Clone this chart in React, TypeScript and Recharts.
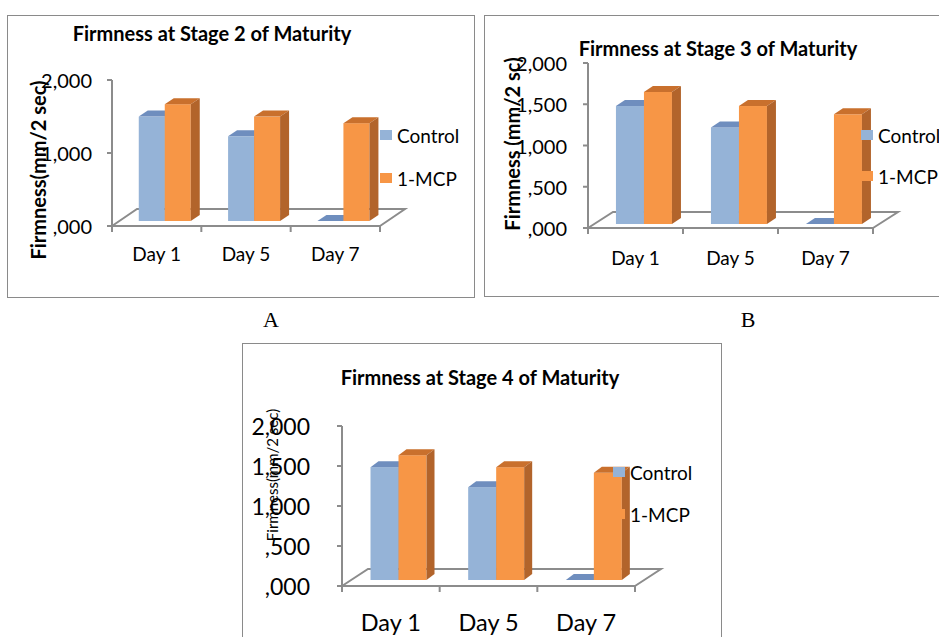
import React from 'react';
import { BarChart, Bar, XAxis, YAxis, Legend, Customized } from 'recharts';

// categories and series
const days = ['Day 1', 'Day 5', 'Day 7'];
const seriesNames = ['Control', '1-MCP'];

// values (mm/2 sec)
const stage2Control = [1430, 1160, 0];
const stage2Mcp = [1600, 1430, 1340];
const stage3Control = [1430, 1170, 0];
const stage3Mcp = [1600, 1430, 1330];
const stage4Control = [1410, 1160, 0];
const stage4Mcp = [1560, 1410, 1340];

// axis ticks and their labels
const ticksCoarse = [0, 1000, 2000];
const ticksFine = [0, 500, 1000, 1500, 2000];
const tickLabels: Record<number, string> = {
  0: ',000',
  500: ',500',
  1000: '1,000',
  1500: '1,500',
  2000: '2,000',
};

const BLUE = '#95B3D7';
const BLUE_TOP = '#6F8EBE';
const BLUE_SIDE = '#5F7EAE';
const ORANGE = '#F79646';
const ORANGE_TOP = '#C9702D';
const ORANGE_SIDE = '#B2642B';
const AXIS = '#8C8C8C';
const FONT = 'Lato, "Open Sans", sans-serif';
const W = 939;
const H = 637;
const Y_AXIS_W = 60;
const X_AXIS_H = 30;

interface Layout {
  plot: { l: number; r: number; t: number; b: number };
  floor: { dx: number; dy: number };
  bar: { ox: number; oy: number; dx: number; dy: number };
  title: { text: string; x: number; y: number; size: number };
  yLabel: { text: string; x: number; y: number; size: number; weight: number };
  ticks: number[];
  tickFont: number;
  tickGap: number;
  dayFont: number;
  dayOffset: number;
  legend: { x: number; y1: number; y2: number; size: number };
}

const layoutA: Layout = {
  plot: { l: 112, r: 380, t: 80, b: 226 },
  floor: { dx: 25, dy: 17 },
  bar: { ox: 8, oy: -5, dx: 9, dy: 6 },
  title: { text: 'Firmness at Stage 2 of Maturity', x: 212, y: 33, size: 20 },
  yLabel: { text: 'Firmness(mm/2 sec)', x: 38, y: 170, size: 20, weight: 700 },
  ticks: ticksCoarse,
  tickFont: 20,
  tickGap: 15,
  dayFont: 19,
  dayOffset: 27,
  legend: { x: 380, y1: 135, y2: 178, size: 19 },
};

const layoutB: Layout = {
  plot: { l: 588, r: 873, t: 63, b: 228 },
  floor: { dx: 25, dy: 16 },
  bar: { ox: 8, oy: -4, dx: 9, dy: 6 },
  title: { text: 'Firmness at Stage 3 of Maturity', x: 718, y: 48, size: 20 },
  yLabel: { text: 'Firmness (mm/2 sc)', x: 512, y: 144, size: 20, weight: 700 },
  ticks: ticksFine,
  tickFont: 20,
  tickGap: 16,
  dayFont: 19,
  dayOffset: 29,
  legend: { x: 861, y1: 135, y2: 176, size: 19 },
};

const layoutC: Layout = {
  plot: { l: 342, r: 635, t: 426, b: 586 },
  floor: { dx: 26, dy: 17 },
  bar: { ox: 8, oy: -6, dx: 8, dy: 6 },
  title: { text: 'Firmness at Stage 4 of Maturity', x: 480, y: 377, size: 20 },
  yLabel: { text: 'Firmness(mm/2 sec)', x: 272, y: 475, size: 15, weight: 400 },
  ticks: ticksFine,
  tickFont: 23,
  tickGap: 27,
  dayFont: 23.5,
  dayOffset: 36,
  legend: { x: 613, y1: 472, y2: 514, size: 19 },
};

const Bar3D = (props: any) => {
  const { x, y, width, height, fill, top, side, ox, oy, dx, dy } = props;
  if (x == null || y == null) return null;
  const X = x + ox;
  const Y = y + oy;
  const w = width;
  const h = Math.max(height || 0, 0);
  return (
    <g>
      <rect x={X} y={Y} width={w} height={h} fill={fill} />
      <polygon points={`${X},${Y} ${X + w},${Y} ${X + w + dx},${Y - dy} ${X + dx},${Y - dy}`} fill={top} />
      <polygon
        points={`${X + w},${Y} ${X + w + dx},${Y - dy} ${X + w + dx},${Y + h - dy} ${X + w},${Y + h}`}
        fill={side}
      />
    </g>
  );
};

const Decor = ({ L }: { L: Layout }) => {
  const { l, r, b } = L.plot;
  const { dx, dy } = L.floor;
  const band = (r - l) / days.length;
  return (
    <g>
      <polyline
        points={`${l},${b} ${l + dx},${b - dy} ${r + dx},${b - dy} ${r},${b}`}
        fill="none"
        stroke={AXIS}
        strokeWidth={2}
      />
      {days.concat(['']).map((_, i) => (
        <line key={i} x1={l + i * band} x2={l + i * band} y1={b} y2={b + 6} stroke={AXIS} strokeWidth={2} />
      ))}
      <text
        x={L.title.x}
        y={L.title.y}
        textAnchor="middle"
        dominantBaseline="central"
        fontFamily={FONT}
        fontWeight={700}
        fontSize={L.title.size}
        fill="#000"
      >
        {L.title.text}
      </text>
      <text
        x={L.yLabel.x}
        y={L.yLabel.y}
        textAnchor="middle"
        dominantBaseline="central"
        fontFamily={FONT}
        fontWeight={L.yLabel.weight}
        fontSize={L.yLabel.size}
        fill="#000"
        transform={`rotate(-90 ${L.yLabel.x} ${L.yLabel.y})`}
      >
        {L.yLabel.text}
      </text>
    </g>
  );
};

const LegendBox = ({ payload, L }: any) => {
  const rowH = L.legend.y2 - L.legend.y1;
  const colorOf = (name: string) => {
    const hit = (payload || []).find((p: any) => p.value === name);
    return hit ? hit.color : name === seriesNames[0] ? BLUE : ORANGE;
  };
  return (
    <div style={{ fontFamily: FONT, fontSize: L.legend.size, color: '#000', whiteSpace: 'nowrap' }}>
      {seriesNames.map((name) => (
        <div key={name} style={{ height: rowH, display: 'flex', alignItems: 'center' }}>
          <span style={{ display: 'inline-block', width: 12, height: 10, background: colorOf(name), marginRight: 5 }} />
          <span>{name}</span>
        </div>
      ))}
    </div>
  );
};

const Panel = ({ L, control, mcp }: { L: Layout; control: number[]; mcp: number[] }) => {
  const data = days.map((d, i) => ({ day: d, control: control[i], mcp: mcp[i] }));
  const rowH = L.legend.y2 - L.legend.y1;
  return (
    <div style={{ position: 'absolute', left: 0, top: 0 }}>
      <BarChart
        width={W}
        height={H}
        data={data}
        barGap={0}
        barCategoryGap="21%"
        margin={{ top: L.plot.t, left: L.plot.l - Y_AXIS_W, right: W - L.plot.r, bottom: H - L.plot.b - X_AXIS_H }}
      >
        <Customized component={<Decor L={L} />} />
        <XAxis
          dataKey="day"
          height={X_AXIS_H}
          interval={0}
          axisLine={{ stroke: AXIS, strokeWidth: 2 }}
          tickLine={false}
          tick={(p: any) => (
            <text
              x={p.x}
              y={L.plot.b + L.dayOffset}
              textAnchor="middle"
              dominantBaseline="central"
              fontFamily={FONT}
              fontSize={L.dayFont}
              fill="#000"
            >
              {p.payload.value}
            </text>
          )}
        />
        <YAxis
          width={Y_AXIS_W}
          domain={[0, 2000]}
          ticks={L.ticks}
          interval={0}
          axisLine={{ stroke: AXIS, strokeWidth: 2 }}
          tickLine={{ stroke: AXIS, strokeWidth: 2 }}
          tickSize={5}
          tickMargin={L.tickGap}
          tick={(p: any) => (
            <text
              x={p.x}
              y={p.y}
              textAnchor="end"
              dominantBaseline="central"
              fontFamily={FONT}
              fontSize={L.tickFont}
              fill="#000"
            >
              {tickLabels[p.payload.value]}
            </text>
          )}
        />
        <Bar
          dataKey="control"
          name={seriesNames[0]}
          fill={BLUE}
          isAnimationActive={false}
          shape={(p: any) => <Bar3D {...p} top={BLUE_TOP} side={BLUE_SIDE} {...L.bar} />}
        />
        <Bar
          dataKey="mcp"
          name={seriesNames[1]}
          fill={ORANGE}
          isAnimationActive={false}
          shape={(p: any) => <Bar3D {...p} top={ORANGE_TOP} side={ORANGE_SIDE} {...L.bar} />}
        />
        <Legend
          layout="vertical"
          align="center"
          verticalAlign="middle"
          wrapperStyle={{ left: L.legend.x, top: L.legend.y1 - rowH / 2, width: 'auto', height: 'auto' }}
          content={(p: any) => <LegendBox payload={p.payload} L={L} />}
        />
      </BarChart>
    </div>
  );
};

const Box = ({ l, t, r, b }: { l: number; t: number; r: number; b: number }) => (
  <div
    style={{
      position: 'absolute',
      left: l,
      top: t,
      width: r - l,
      height: b - t,
      border: '1.5px solid #8a8a8a',
      boxSizing: 'border-box',
    }}
  />
);

const Letter = ({ x, text }: { x: number; text: string }) => (
  <div
    style={{
      position: 'absolute',
      left: x - 20,
      width: 40,
      top: 308,
      textAlign: 'center',
      fontFamily: '"Liberation Serif", "Times New Roman", serif',
      fontSize: 22,
      lineHeight: '24px',
      color: '#000',
    }}
  >
    {text}
  </div>
);

export default function App() {
  return (
    <div style={{ position: 'absolute', left: 0, top: 0, width: W, height: H, overflow: 'hidden', background: '#fff' }}>
      <Box l={7} t={15} r={475} b={298} />
      <Box l={484} t={15} r={945} b={297} />
      <Box l={242} t={343} r={722} b={660} />
      <Letter x={271} text="A" />
      <Letter x={748} text="B" />
      <Panel L={layoutA} control={stage2Control} mcp={stage2Mcp} />
      <Panel L={layoutB} control={stage3Control} mcp={stage3Mcp} />
      <Panel L={layoutC} control={stage4Control} mcp={stage4Mcp} />
    </div>
  );
}
